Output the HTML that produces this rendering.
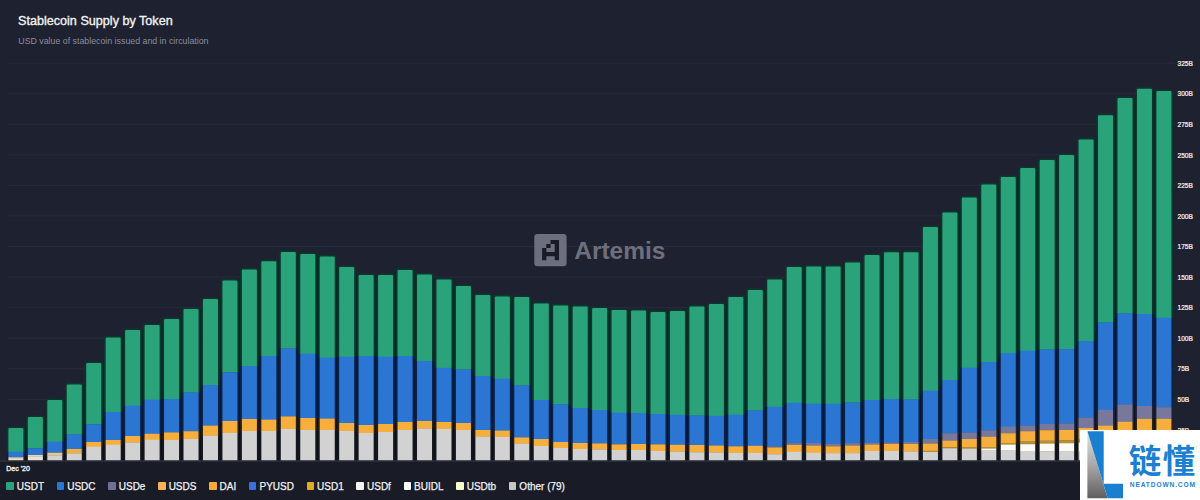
<!DOCTYPE html>
<html><head><meta charset="utf-8"><title>Stablecoin Supply by Token</title>
<style>
html,body{margin:0;padding:0}
body{width:1200px;height:500px;overflow:hidden;background:#1e2130;font-family:"Liberation Sans",sans-serif;position:relative}
#t{position:absolute;left:18px;top:12.5px;font-size:12.62px;line-height:16px;color:#f2f2f2;-webkit-text-stroke:0.35px #f2f2f2;white-space:nowrap}
#s{position:absolute;left:18.3px;top:35px;font-size:8.8px;line-height:12px;color:#8a8d9a;white-space:nowrap}
#foot{position:absolute;left:0;top:461px;width:1200px;height:39px;background:#191b27}
#d{position:absolute;left:6.3px;top:463.8px;font-size:7px;line-height:9px;color:#f0f0f0;-webkit-text-stroke:0.35px #f0f0f0;white-space:nowrap}
#lg{position:absolute;left:6.3px;top:481.3px;height:12px;white-space:nowrap;font-size:10px;line-height:12px;color:#f2f2f2;-webkit-text-stroke:0.25px #f2f2f2;display:flex}
.it{display:flex;align-items:center;margin-right:12.7px}
.it i{display:block;width:7.5px;height:7.5px;border-radius:1px;margin-right:3px;position:relative;top:-1.4px}
svg{position:absolute;left:0;top:0}
#wm{position:absolute;left:1080px;top:430px;width:120px;height:70px;background:#fff}
</style></head><body>
<div id="foot"></div>
<svg width="1200" height="500" viewBox="0 0 1200 500">
<g fill="#282b39"><rect x="8" y="429.34" width="1167" height="1"/><rect x="8" y="398.78" width="1167" height="1"/><rect x="8" y="368.23" width="1167" height="1"/><rect x="8" y="337.67" width="1167" height="1"/><rect x="8" y="307.11" width="1167" height="1"/><rect x="8" y="276.55" width="1167" height="1"/><rect x="8" y="246" width="1167" height="1"/><rect x="8" y="215.44" width="1167" height="1"/><rect x="8" y="184.88" width="1167" height="1"/><rect x="8" y="154.32" width="1167" height="1"/><rect x="8" y="123.77" width="1167" height="1"/><rect x="8" y="93.21" width="1167" height="1"/><rect x="8" y="62.65" width="1167" height="1"/></g>
<g fill="#0a1018"><rect fill="#062a21" x="24.8" y="428" width="1.66" height="22"/><rect fill="#07183a" x="24.8" y="450" width="1.66" height="6.15"/><rect fill="#0d1017" x="24.8" y="456.15" width="1.66" height="5.25"/><rect fill="#062a21" x="44.26" y="417" width="1.66" height="28"/><rect fill="#07183a" x="44.26" y="445" width="1.66" height="8.9"/><rect fill="#0d1017" x="44.26" y="453.9" width="1.66" height="7.5"/><rect fill="#062a21" x="63.72" y="400" width="1.66" height="38.05"/><rect fill="#07183a" x="63.72" y="438.05" width="1.66" height="12.85"/><rect fill="#0d1017" x="63.72" y="450.9" width="1.66" height="10.5"/><rect fill="#062a21" x="83.17" y="384.4" width="1.66" height="44.9"/><rect fill="#07183a" x="83.17" y="429.3" width="1.66" height="16.2"/><rect fill="#0d1017" x="83.17" y="445.5" width="1.66" height="15.9"/><rect fill="#062a21" x="102.63" y="363" width="1.66" height="55.1"/><rect fill="#07183a" x="102.63" y="418.1" width="1.66" height="22.9"/><rect fill="#0d1017" x="102.63" y="441" width="1.66" height="20.4"/><rect fill="#062a21" x="122.09" y="337.4" width="1.66" height="71.4"/><rect fill="#07183a" x="122.09" y="408.8" width="1.66" height="29.2"/><rect fill="#0d1017" x="122.09" y="438" width="1.66" height="23.4"/><rect fill="#062a21" x="141.55" y="330" width="1.66" height="72.6"/><rect fill="#07183a" x="141.55" y="402.6" width="1.66" height="32.3"/><rect fill="#0d1017" x="141.55" y="434.9" width="1.66" height="26.5"/><rect fill="#062a21" x="161.01" y="325" width="1.66" height="74.3"/><rect fill="#07183a" x="161.01" y="399.3" width="1.66" height="33.8"/><rect fill="#0d1017" x="161.01" y="433.1" width="1.66" height="28.3"/><rect fill="#062a21" x="180.46" y="319" width="1.66" height="76.7"/><rect fill="#07183a" x="180.46" y="395.7" width="1.66" height="36.1"/><rect fill="#0d1017" x="180.46" y="431.8" width="1.66" height="29.6"/><rect fill="#062a21" x="199.92" y="309" width="1.66" height="79.7"/><rect fill="#07183a" x="199.92" y="388.7" width="1.66" height="39.7"/><rect fill="#0d1017" x="199.92" y="428.4" width="1.66" height="33"/><rect fill="#062a21" x="219.38" y="299" width="1.66" height="79.6"/><rect fill="#07183a" x="219.38" y="378.6" width="1.66" height="44.7"/><rect fill="#0d1017" x="219.38" y="423.3" width="1.66" height="38.1"/><rect fill="#062a21" x="238.84" y="280.6" width="1.66" height="88.5"/><rect fill="#07183a" x="238.84" y="369.1" width="1.66" height="50.9"/><rect fill="#0d1017" x="238.84" y="420" width="1.66" height="41.4"/><rect fill="#062a21" x="258.3" y="269.4" width="1.66" height="91.6"/><rect fill="#07183a" x="258.3" y="361" width="1.66" height="58.3"/><rect fill="#0d1017" x="258.3" y="419.3" width="1.66" height="42.1"/><rect fill="#062a21" x="277.75" y="261.2" width="1.66" height="91"/><rect fill="#07183a" x="277.75" y="352.2" width="1.66" height="65.8"/><rect fill="#0d1017" x="277.75" y="418" width="1.66" height="43.4"/><rect fill="#062a21" x="297.21" y="254" width="1.66" height="97"/><rect fill="#07183a" x="297.21" y="351" width="1.66" height="66.2"/><rect fill="#0d1017" x="297.21" y="417.2" width="1.66" height="44.2"/><rect fill="#062a21" x="316.67" y="256.4" width="1.66" height="99.2"/><rect fill="#07183a" x="316.67" y="355.6" width="1.66" height="62.7"/><rect fill="#0d1017" x="316.67" y="418.3" width="1.66" height="43.1"/><rect fill="#062a21" x="336.13" y="267" width="1.66" height="90.1"/><rect fill="#07183a" x="336.13" y="357.1" width="1.66" height="63.7"/><rect fill="#0d1017" x="336.13" y="420.8" width="1.66" height="40.6"/><rect fill="#062a21" x="355.59" y="275" width="1.66" height="81.3"/><rect fill="#07183a" x="355.59" y="356.3" width="1.66" height="67.7"/><rect fill="#0d1017" x="355.59" y="424" width="1.66" height="37.4"/><rect fill="#062a21" x="375.04" y="275" width="1.66" height="81.3"/><rect fill="#07183a" x="375.04" y="356.3" width="1.66" height="68.2"/><rect fill="#0d1017" x="375.04" y="424.5" width="1.66" height="36.9"/><rect fill="#062a21" x="394.5" y="275" width="1.66" height="81.3"/><rect fill="#07183a" x="394.5" y="356.3" width="1.66" height="66.7"/><rect fill="#0d1017" x="394.5" y="423" width="1.66" height="38.4"/><rect fill="#062a21" x="413.96" y="274.4" width="1.66" height="84.1"/><rect fill="#07183a" x="413.96" y="358.5" width="1.66" height="63"/><rect fill="#0d1017" x="413.96" y="421.5" width="1.66" height="39.9"/><rect fill="#062a21" x="433.42" y="279.4" width="1.66" height="85"/><rect fill="#07183a" x="433.42" y="364.4" width="1.66" height="57.1"/><rect fill="#0d1017" x="433.42" y="421.5" width="1.66" height="39.9"/><rect fill="#062a21" x="452.88" y="286" width="1.66" height="82.6"/><rect fill="#07183a" x="452.88" y="368.6" width="1.66" height="53.9"/><rect fill="#0d1017" x="452.88" y="422.5" width="1.66" height="38.9"/><rect fill="#062a21" x="472.33" y="295" width="1.66" height="77.7"/><rect fill="#07183a" x="472.33" y="372.7" width="1.66" height="53.8"/><rect fill="#0d1017" x="472.33" y="426.5" width="1.66" height="34.9"/><rect fill="#062a21" x="491.79" y="296.4" width="1.66" height="80.9"/><rect fill="#07183a" x="491.79" y="377.3" width="1.66" height="53"/><rect fill="#0d1017" x="491.79" y="430.3" width="1.66" height="31.1"/><rect fill="#062a21" x="511.25" y="297" width="1.66" height="85"/><rect fill="#07183a" x="511.25" y="382" width="1.66" height="52"/><rect fill="#0d1017" x="511.25" y="434" width="1.66" height="27.4"/><rect fill="#062a21" x="530.71" y="303.4" width="1.66" height="89.3"/><rect fill="#07183a" x="530.71" y="392.7" width="1.66" height="45.5"/><rect fill="#0d1017" x="530.71" y="438.2" width="1.66" height="23.2"/><rect fill="#062a21" x="550.17" y="305.4" width="1.66" height="96.8"/><rect fill="#07183a" x="550.17" y="402.2" width="1.66" height="38.3"/><rect fill="#0d1017" x="550.17" y="440.5" width="1.66" height="20.9"/><rect fill="#062a21" x="569.62" y="306.4" width="1.66" height="99.8"/><rect fill="#07183a" x="569.62" y="406.2" width="1.66" height="36.3"/><rect fill="#0d1017" x="569.62" y="442.5" width="1.66" height="18.9"/><rect fill="#062a21" x="589.08" y="308" width="1.66" height="101"/><rect fill="#07183a" x="589.08" y="409" width="1.66" height="34.2"/><rect fill="#0d1017" x="589.08" y="443.2" width="1.66" height="18.2"/><rect fill="#062a21" x="608.54" y="310" width="1.66" height="101.3"/><rect fill="#07183a" x="608.54" y="411.3" width="1.66" height="32.6"/><rect fill="#0d1017" x="608.54" y="443.9" width="1.66" height="17.5"/><rect fill="#062a21" x="628" y="310.6" width="1.66" height="102.2"/><rect fill="#07183a" x="628" y="412.8" width="1.66" height="31.4"/><rect fill="#0d1017" x="628" y="444.2" width="1.66" height="17.2"/><rect fill="#062a21" x="647.46" y="312" width="1.66" height="101.5"/><rect fill="#07183a" x="647.46" y="413.5" width="1.66" height="30.7"/><rect fill="#0d1017" x="647.46" y="444.2" width="1.66" height="17.2"/><rect fill="#062a21" x="666.91" y="312" width="1.66" height="102.4"/><rect fill="#07183a" x="666.91" y="414.4" width="1.66" height="30.2"/><rect fill="#0d1017" x="666.91" y="444.6" width="1.66" height="16.8"/><rect fill="#062a21" x="686.37" y="311" width="1.66" height="104.15"/><rect fill="#07183a" x="686.37" y="415.15" width="1.66" height="29.75"/><rect fill="#0d1017" x="686.37" y="444.9" width="1.66" height="16.5"/><rect fill="#062a21" x="705.83" y="306.4" width="1.66" height="109.25"/><rect fill="#07183a" x="705.83" y="415.65" width="1.66" height="29.6"/><rect fill="#0d1017" x="705.83" y="445.25" width="1.66" height="16.15"/><rect fill="#062a21" x="725.29" y="304" width="1.66" height="111.25"/><rect fill="#07183a" x="725.29" y="415.25" width="1.66" height="30.65"/><rect fill="#0d1017" x="725.29" y="445.9" width="1.66" height="15.5"/><rect fill="#062a21" x="744.75" y="297" width="1.66" height="115.6"/><rect fill="#07183a" x="744.75" y="412.6" width="1.66" height="33.45"/><rect fill="#0d1017" x="744.75" y="446.05" width="1.66" height="15.35"/><rect fill="#062a21" x="764.2" y="290" width="1.66" height="118.6"/><rect fill="#07183a" x="764.2" y="408.6" width="1.66" height="37.45"/><rect fill="#0d1017" x="764.2" y="446.05" width="1.66" height="15.35"/><rect fill="#062a21" x="783.66" y="279.4" width="1.66" height="125.35"/><rect fill="#07183a" x="783.66" y="404.75" width="1.66" height="39.95"/><rect fill="#0d1017" x="783.66" y="444.7" width="1.66" height="16.7"/><rect fill="#062a21" x="803.12" y="267" width="1.66" height="136.25"/><rect fill="#07183a" x="803.12" y="403.25" width="1.66" height="39.8"/><rect fill="#0d1017" x="803.12" y="443.05" width="1.66" height="18.35"/><rect fill="#062a21" x="822.58" y="266.4" width="1.66" height="137.35"/><rect fill="#07183a" x="822.58" y="403.75" width="1.66" height="39.5"/><rect fill="#0d1017" x="822.58" y="443.25" width="1.66" height="18.15"/><rect fill="#062a21" x="842.04" y="266.4" width="1.66" height="136.75"/><rect fill="#07183a" x="842.04" y="403.15" width="1.66" height="40.15"/><rect fill="#0d1017" x="842.04" y="443.3" width="1.66" height="18.1"/><rect fill="#062a21" x="861.49" y="262.6" width="1.66" height="138.65"/><rect fill="#07183a" x="861.49" y="401.25" width="1.66" height="41.7"/><rect fill="#0d1017" x="861.49" y="442.95" width="1.66" height="18.45"/><rect fill="#062a21" x="880.95" y="255" width="1.66" height="144.5"/><rect fill="#07183a" x="880.95" y="399.5" width="1.66" height="43.05"/><rect fill="#0d1017" x="880.95" y="442.55" width="1.66" height="18.85"/><rect fill="#062a21" x="900.41" y="252.2" width="1.66" height="147"/><rect fill="#07183a" x="900.41" y="399.2" width="1.66" height="42.9"/><rect fill="#0d1017" x="900.41" y="442.1" width="1.66" height="19.3"/><rect fill="#062a21" x="919.87" y="252.2" width="1.66" height="142.8"/><rect fill="#07183a" x="919.87" y="395" width="1.66" height="45.45"/><rect fill="#0d1017" x="919.87" y="440.45" width="1.66" height="20.95"/><rect fill="#062a21" x="939.33" y="227" width="1.66" height="158.3"/><rect fill="#07183a" x="939.33" y="385.3" width="1.66" height="50.8"/><rect fill="#0d1017" x="939.33" y="436.1" width="1.66" height="25.3"/><rect fill="#062a21" x="958.78" y="212.6" width="1.66" height="161.2"/><rect fill="#07183a" x="958.78" y="373.8" width="1.66" height="59.05"/><rect fill="#0d1017" x="958.78" y="432.85" width="1.66" height="28.55"/><rect fill="#062a21" x="978.24" y="197.6" width="1.66" height="167.2"/><rect fill="#07183a" x="978.24" y="364.8" width="1.66" height="66.55"/><rect fill="#0d1017" x="978.24" y="431.35" width="1.66" height="30.05"/><rect fill="#062a21" x="997.7" y="184.4" width="1.66" height="173.1"/><rect fill="#07183a" x="997.7" y="357.5" width="1.66" height="70.95"/><rect fill="#0d1017" x="997.7" y="428.45" width="1.66" height="32.95"/><rect fill="#062a21" x="1017.16" y="177" width="1.66" height="174.8"/><rect fill="#07183a" x="1017.16" y="351.8" width="1.66" height="74.25"/><rect fill="#0d1017" x="1017.16" y="426.05" width="1.66" height="35.35"/><rect fill="#062a21" x="1036.62" y="168" width="1.66" height="182.05"/><rect fill="#07183a" x="1036.62" y="350.05" width="1.66" height="74.65"/><rect fill="#0d1017" x="1036.62" y="424.7" width="1.66" height="36.7"/><rect fill="#062a21" x="1056.07" y="160" width="1.66" height="189.3"/><rect fill="#07183a" x="1056.07" y="349.3" width="1.66" height="74.4"/><rect fill="#0d1017" x="1056.07" y="423.7" width="1.66" height="37.7"/><rect fill="#062a21" x="1075.53" y="155" width="1.66" height="190.05"/><rect fill="#07183a" x="1075.53" y="345.05" width="1.66" height="75.45"/><rect fill="#0d1017" x="1075.53" y="420.5" width="1.66" height="40.9"/><rect fill="#062a21" x="1094.99" y="139.4" width="1.66" height="192.35"/><rect fill="#07183a" x="1094.99" y="331.75" width="1.66" height="81.95"/><rect fill="#0d1017" x="1094.99" y="413.7" width="1.66" height="47.7"/><rect fill="#062a21" x="1114.45" y="115.2" width="1.66" height="202.75"/><rect fill="#07183a" x="1114.45" y="317.95" width="1.66" height="89.25"/><rect fill="#0d1017" x="1114.45" y="407.2" width="1.66" height="54.2"/><rect fill="#062a21" x="1133.91" y="98" width="1.66" height="215.7"/><rect fill="#07183a" x="1133.91" y="313.7" width="1.66" height="91.55"/><rect fill="#0d1017" x="1133.91" y="405.25" width="1.66" height="56.15"/><rect fill="#062a21" x="1153.36" y="91" width="1.66" height="224.85"/><rect fill="#07183a" x="1153.36" y="315.85" width="1.66" height="90.7"/><rect fill="#0d1017" x="1153.36" y="406.55" width="1.66" height="54.85"/></g>
<g><path fill="#0a382c" d="M6.8 452V429.1Q6.8 426.4 9.5 426.4H22.3Q25 426.4 25 429.1V452Z"/><rect fill="#0a2148" x="6.8" y="451.7" width="18.2" height="5.9"/><rect fill="#2b2011" x="6.8" y="457.3" width="18.2" height="1.6"/><rect fill="#15171e" x="6.8" y="458.6" width="18.2" height="2.8"/><path fill="#0a382c" d="M26.26 448.6V418.1Q26.26 415.4 28.96 415.4H41.76Q44.46 415.4 44.46 418.1V448.6Z"/><rect fill="#0a2148" x="26.26" y="448.3" width="18.2" height="7"/><rect fill="#2b2011" x="26.26" y="455" width="18.2" height="1.6"/><rect fill="#15171e" x="26.26" y="456.3" width="18.2" height="5.1"/><path fill="#0a382c" d="M45.72 442V401.1Q45.72 398.4 48.42 398.4H61.22Q63.92 398.4 63.92 401.1V442Z"/><rect fill="#0a2148" x="45.72" y="441.7" width="18.2" height="11.4"/><rect fill="#2b2011" x="45.72" y="452.8" width="18.2" height="2.8"/><rect fill="#15171e" x="45.72" y="455.3" width="18.2" height="6.1"/><path fill="#0a382c" d="M65.17 434.7V385.5Q65.17 382.8 67.87 382.8H80.67Q83.37 382.8 83.37 385.5V434.7Z"/><rect fill="#0a2148" x="65.17" y="434.4" width="18.2" height="14.9"/><rect fill="#2b2011" x="65.17" y="449" width="18.2" height="4.6"/><rect fill="#15171e" x="65.17" y="453.3" width="18.2" height="8.1"/><path fill="#0a382c" d="M84.63 424.5V364.1Q84.63 361.4 87.33 361.4H100.13Q102.83 361.4 102.83 364.1V424.5Z"/><rect fill="#0a2148" x="84.63" y="424.2" width="18.2" height="18.1"/><rect fill="#2b2011" x="84.63" y="442" width="18.2" height="5"/><rect fill="#15171e" x="84.63" y="446.7" width="18.2" height="14.7"/><path fill="#0a382c" d="M104.09 412.3V338.5Q104.09 335.8 106.79 335.8H119.59Q122.29 335.8 122.29 338.5V412.3Z"/><rect fill="#0a2148" x="104.09" y="412" width="18.2" height="28.3"/><rect fill="#2b2011" x="104.09" y="440" width="18.2" height="5"/><rect fill="#15171e" x="104.09" y="444.7" width="18.2" height="16.7"/><path fill="#0a382c" d="M123.55 405.9V331.1Q123.55 328.4 126.25 328.4H139.05Q141.75 328.4 141.75 331.1V405.9Z"/><rect fill="#0a2148" x="123.55" y="405.6" width="18.2" height="30.7"/><rect fill="#2b2011" x="123.55" y="436" width="18.2" height="6.8"/><rect fill="#15171e" x="123.55" y="442.5" width="18.2" height="18.9"/><path fill="#0a382c" d="M143.01 399.9V326.1Q143.01 323.4 145.71 323.4H158.51Q161.21 323.4 161.21 326.1V399.9Z"/><rect fill="#0a2148" x="143.01" y="399.6" width="18.2" height="34.5"/><rect fill="#2b2011" x="143.01" y="433.8" width="18.2" height="6.2"/><rect fill="#15171e" x="143.01" y="439.7" width="18.2" height="21.7"/><path fill="#0a382c" d="M162.46 399.3V320.1Q162.46 317.4 165.16 317.4H177.96Q180.66 317.4 180.66 320.1V399.3Z"/><rect fill="#0a2148" x="162.46" y="399" width="18.2" height="33.7"/><rect fill="#2b2011" x="162.46" y="432.4" width="18.2" height="7.9"/><rect fill="#15171e" x="162.46" y="440" width="18.2" height="21.4"/><path fill="#0a382c" d="M181.92 392.7V310.1Q181.92 307.4 184.62 307.4H197.42Q200.12 307.4 200.12 310.1V392.7Z"/><rect fill="#0a2148" x="181.92" y="392.4" width="18.2" height="39.1"/><rect fill="#2b2011" x="181.92" y="431.2" width="18.2" height="8.1"/><rect fill="#15171e" x="181.92" y="439" width="18.2" height="22.4"/><path fill="#0a382c" d="M201.38 385.3V300.1Q201.38 297.4 204.08 297.4H216.88Q219.58 297.4 219.58 300.1V385.3Z"/><rect fill="#0a2148" x="201.38" y="385" width="18.2" height="40.9"/><rect fill="#2b2011" x="201.38" y="425.6" width="18.2" height="10.3"/><rect fill="#15171e" x="201.38" y="435.6" width="18.2" height="25.8"/><path fill="#0a382c" d="M220.84 372.5V281.7Q220.84 279 223.54 279H236.34Q239.04 279 239.04 281.7V372.5Z"/><rect fill="#0a2148" x="220.84" y="372.2" width="18.2" height="49.1"/><rect fill="#2b2011" x="220.84" y="421" width="18.2" height="12.3"/><rect fill="#15171e" x="220.84" y="433" width="18.2" height="28.4"/><path fill="#0a382c" d="M240.3 366.3V270.5Q240.3 267.8 243 267.8H255.8Q258.5 267.8 258.5 270.5V366.3Z"/><rect fill="#0a2148" x="240.3" y="366" width="18.2" height="53.3"/><rect fill="#2b2011" x="240.3" y="419" width="18.2" height="12.3"/><rect fill="#15171e" x="240.3" y="431" width="18.2" height="30.4"/><path fill="#0a382c" d="M259.75 356.3V262.3Q259.75 259.6 262.45 259.6H275.25Q277.95 259.6 277.95 262.3V356.3Z"/><rect fill="#0a2148" x="259.75" y="356" width="18.2" height="63.9"/><rect fill="#2b2011" x="259.75" y="419.6" width="18.2" height="11.7"/><rect fill="#15171e" x="259.75" y="431" width="18.2" height="30.4"/><path fill="#0a382c" d="M279.21 348.7V253.1Q279.21 250.4 281.91 250.4H294.71Q297.41 250.4 297.41 253.1V348.7Z"/><rect fill="#0a2148" x="279.21" y="348.4" width="18.2" height="68.3"/><rect fill="#2b2011" x="279.21" y="416.4" width="18.2" height="12.9"/><rect fill="#15171e" x="279.21" y="429" width="18.2" height="32.4"/><path fill="#0a382c" d="M298.67 353.9V255.1Q298.67 252.4 301.37 252.4H314.17Q316.87 252.4 316.87 255.1V353.9Z"/><rect fill="#0a2148" x="298.67" y="353.6" width="18.2" height="64.7"/><rect fill="#2b2011" x="298.67" y="418" width="18.2" height="12.3"/><rect fill="#15171e" x="298.67" y="430" width="18.2" height="31.4"/><path fill="#0a382c" d="M318.13 357.9V257.5Q318.13 254.8 320.83 254.8H333.63Q336.33 254.8 336.33 257.5V357.9Z"/><rect fill="#0a2148" x="318.13" y="357.6" width="18.2" height="61.3"/><rect fill="#2b2011" x="318.13" y="418.6" width="18.2" height="11.7"/><rect fill="#15171e" x="318.13" y="430" width="18.2" height="31.4"/><path fill="#0a382c" d="M337.59 356.9V268.1Q337.59 265.4 340.29 265.4H353.09Q355.79 265.4 355.79 268.1V356.9Z"/><rect fill="#0a2148" x="337.59" y="356.6" width="18.2" height="66.7"/><rect fill="#2b2011" x="337.59" y="423" width="18.2" height="8.3"/><rect fill="#15171e" x="337.59" y="431" width="18.2" height="30.4"/><path fill="#0a382c" d="M357.04 356.3V276.1Q357.04 273.4 359.74 273.4H372.54Q375.24 273.4 375.24 276.1V356.3Z"/><rect fill="#0a2148" x="357.04" y="356" width="18.2" height="69.3"/><rect fill="#2b2011" x="357.04" y="425" width="18.2" height="8.3"/><rect fill="#15171e" x="357.04" y="433" width="18.2" height="28.4"/><path fill="#0a382c" d="M376.5 356.9V276.1Q376.5 273.4 379.2 273.4H392Q394.7 273.4 394.7 276.1V356.9Z"/><rect fill="#0a2148" x="376.5" y="356.6" width="18.2" height="67.7"/><rect fill="#2b2011" x="376.5" y="424" width="18.2" height="8.3"/><rect fill="#15171e" x="376.5" y="432" width="18.2" height="29.4"/><path fill="#0a382c" d="M395.96 356.3V271.1Q395.96 268.4 398.66 268.4H411.46Q414.16 268.4 414.16 271.1V356.3Z"/><rect fill="#0a2148" x="395.96" y="356" width="18.2" height="66.3"/><rect fill="#2b2011" x="395.96" y="422" width="18.2" height="8.3"/><rect fill="#15171e" x="395.96" y="430" width="18.2" height="31.4"/><path fill="#0a382c" d="M415.42 361.3V275.5Q415.42 272.8 418.12 272.8H430.92Q433.62 272.8 433.62 275.5V361.3Z"/><rect fill="#0a2148" x="415.42" y="361" width="18.2" height="60.3"/><rect fill="#2b2011" x="415.42" y="421" width="18.2" height="7.9"/><rect fill="#15171e" x="415.42" y="428.6" width="18.2" height="32.8"/><path fill="#0a382c" d="M434.88 368.1V280.5Q434.88 277.8 437.58 277.8H450.38Q453.08 277.8 453.08 280.5V368.1Z"/><rect fill="#0a2148" x="434.88" y="367.8" width="18.2" height="54.5"/><rect fill="#2b2011" x="434.88" y="422" width="18.2" height="7.3"/><rect fill="#15171e" x="434.88" y="429" width="18.2" height="32.4"/><path fill="#0a382c" d="M454.33 369.7V287.1Q454.33 284.4 457.03 284.4H469.83Q472.53 284.4 472.53 287.1V369.7Z"/><rect fill="#0a2148" x="454.33" y="369.4" width="18.2" height="53.9"/><rect fill="#2b2011" x="454.33" y="423" width="18.2" height="7.3"/><rect fill="#15171e" x="454.33" y="430" width="18.2" height="31.4"/><path fill="#0a382c" d="M473.79 376.3V296.1Q473.79 293.4 476.49 293.4H489.29Q491.99 293.4 491.99 296.1V376.3Z"/><rect fill="#0a2148" x="473.79" y="376" width="18.2" height="54.3"/><rect fill="#2b2011" x="473.79" y="430" width="18.2" height="6.9"/><rect fill="#15171e" x="473.79" y="436.6" width="18.2" height="24.8"/><path fill="#0a382c" d="M493.25 378.9V297.5Q493.25 294.8 495.95 294.8H508.75Q511.45 294.8 511.45 297.5V378.9Z"/><rect fill="#0a2148" x="493.25" y="378.6" width="18.2" height="52.3"/><rect fill="#2b2011" x="493.25" y="430.6" width="18.2" height="6.7"/><rect fill="#15171e" x="493.25" y="437" width="18.2" height="24.4"/><path fill="#0a382c" d="M512.71 385.7V298.1Q512.71 295.4 515.41 295.4H528.21Q530.91 295.4 530.91 298.1V385.7Z"/><rect fill="#0a2148" x="512.71" y="385.4" width="18.2" height="52.3"/><rect fill="#2b2011" x="512.71" y="437.4" width="18.2" height="6.5"/><rect fill="#15171e" x="512.71" y="443.6" width="18.2" height="17.8"/><path fill="#0a382c" d="M532.17 400.3V304.5Q532.17 301.8 534.87 301.8H547.67Q550.37 301.8 550.37 304.5V400.3Z"/><rect fill="#0a2148" x="532.17" y="400" width="18.2" height="39.3"/><rect fill="#2b2011" x="532.17" y="439" width="18.2" height="7.3"/><rect fill="#15171e" x="532.17" y="446" width="18.2" height="15.4"/><path fill="#0a382c" d="M551.62 404.7V306.5Q551.62 303.8 554.32 303.8H567.12Q569.82 303.8 569.82 306.5V404.7Z"/><rect fill="#0a2148" x="551.62" y="404.4" width="18.2" height="37.9"/><rect fill="#2b2011" x="551.62" y="442" width="18.2" height="6.3"/><rect fill="#15171e" x="551.62" y="448" width="18.2" height="13.4"/><path fill="#0a382c" d="M571.08 408.3V307.5Q571.08 304.8 573.78 304.8H586.58Q589.28 304.8 589.28 307.5V408.3Z"/><rect fill="#0a2148" x="571.08" y="408" width="18.2" height="35.3"/><rect fill="#2b2011" x="571.08" y="443" width="18.2" height="6.3"/><rect fill="#15171e" x="571.08" y="449" width="18.2" height="12.4"/><path fill="#0a382c" d="M590.54 410.3V309.1Q590.54 306.4 593.24 306.4H606.04Q608.74 306.4 608.74 309.1V410.3Z"/><rect fill="#0a2148" x="590.54" y="410" width="18.2" height="33.7"/><rect fill="#2b2011" x="590.54" y="443.4" width="18.2" height="6.3"/><rect fill="#15171e" x="590.54" y="449.4" width="18.2" height="12"/><path fill="#0a382c" d="M610 412.9V311.1Q610 308.4 612.7 308.4H625.5Q628.2 308.4 628.2 311.1V412.9Z"/><rect fill="#0a2148" x="610" y="412.6" width="18.2" height="32.1"/><rect fill="#2b2011" x="610" y="444.4" width="18.2" height="5.9"/><rect fill="#15171e" x="610" y="450" width="18.2" height="11.4"/><path fill="#0a382c" d="M629.46 413.3V311.7Q629.46 309 632.16 309H644.96Q647.66 309 647.66 311.7V413.3Z"/><rect fill="#0a2148" x="629.46" y="413" width="18.2" height="31.3"/><rect fill="#2b2011" x="629.46" y="444" width="18.2" height="6.3"/><rect fill="#15171e" x="629.46" y="450" width="18.2" height="11.4"/><path fill="#0a382c" d="M648.91 414.3V313.1Q648.91 310.4 651.61 310.4H664.41Q667.11 310.4 667.11 313.1V414.3Z"/><rect fill="#0a2148" x="648.91" y="414" width="18.2" height="30.7"/><rect fill="#2b2011" x="648.91" y="444.4" width="18.2" height="6.9"/><rect fill="#15171e" x="648.91" y="451" width="18.2" height="10.4"/><path fill="#0a382c" d="M668.37 415.1V312.1Q668.37 309.4 671.07 309.4H683.87Q686.57 309.4 686.57 312.1V415.1Z"/><rect fill="#0a2148" x="668.37" y="414.8" width="18.2" height="30.3"/><rect fill="#2b2011" x="668.37" y="444.8" width="18.2" height="7"/><rect fill="#15171e" x="668.37" y="451.5" width="18.2" height="9.9"/><path fill="#0a382c" d="M687.83 415.8V307.5Q687.83 304.8 690.53 304.8H703.33Q706.03 304.8 706.03 307.5V415.8Z"/><rect fill="#0a2148" x="687.83" y="415.5" width="18.2" height="29.8"/><rect fill="#2b2011" x="687.83" y="445" width="18.2" height="7.5"/><rect fill="#15171e" x="687.83" y="452.2" width="18.2" height="9.2"/><path fill="#0a382c" d="M707.29 416.1V305.1Q707.29 302.4 709.99 302.4H722.79Q725.49 302.4 725.49 305.1V416.1Z"/><rect fill="#0a2148" x="707.29" y="415.8" width="18.2" height="30"/><rect fill="#2b2011" x="707.29" y="445.5" width="18.2" height="7.3"/><rect fill="#15171e" x="707.29" y="452.5" width="18.2" height="8.9"/><path fill="#0a382c" d="M726.75 415V298.1Q726.75 295.4 729.45 295.4H742.25Q744.95 295.4 744.95 298.1V415Z"/><rect fill="#0a2148" x="726.75" y="414.7" width="18.2" height="31.9"/><rect fill="#2b2011" x="726.75" y="446.3" width="18.2" height="7"/><rect fill="#15171e" x="726.75" y="453" width="18.2" height="8.4"/><path fill="#0a382c" d="M746.2 410.8V291.1Q746.2 288.4 748.9 288.4H761.7Q764.4 288.4 764.4 291.1V410.8Z"/><rect fill="#0a2148" x="746.2" y="410.5" width="18.2" height="35.6"/><rect fill="#2b2011" x="746.2" y="445.8" width="18.2" height="7.5"/><rect fill="#15171e" x="746.2" y="453" width="18.2" height="8.4"/><path fill="#0a382c" d="M765.66 407V280.5Q765.66 277.8 768.36 277.8H781.16Q783.86 277.8 783.86 280.5V407Z"/><rect fill="#0a2148" x="765.66" y="406.7" width="18.2" height="39.9"/><rect fill="#20213a" x="765.66" y="446.3" width="18.2" height="1.5"/><rect fill="#2b2011" x="765.66" y="447.5" width="18.2" height="7"/><rect fill="#15171e" x="765.66" y="454.2" width="18.2" height="7.2"/><path fill="#0a382c" d="M785.12 403.1V268.1Q785.12 265.4 787.82 265.4H800.62Q803.32 265.4 803.32 268.1V403.1Z"/><rect fill="#0a2148" x="785.12" y="402.8" width="18.2" height="40.6"/><rect fill="#20213a" x="785.12" y="443.1" width="18.2" height="2.2"/><rect fill="#2b2011" x="785.12" y="445" width="18.2" height="7.2"/><rect fill="#15171e" x="785.12" y="451.9" width="18.2" height="9.5"/><path fill="#0a382c" d="M804.58 404V267.5Q804.58 264.8 807.28 264.8H820.08Q822.78 264.8 822.78 267.5V404Z"/><rect fill="#0a2148" x="804.58" y="403.7" width="18.2" height="39.6"/><rect fill="#20213a" x="804.58" y="443" width="18.2" height="2.9"/><rect fill="#2b2011" x="804.58" y="445.6" width="18.2" height="7.5"/><rect fill="#15171e" x="804.58" y="452.8" width="18.2" height="8.6"/><path fill="#0a382c" d="M824.04 404.1V267.5Q824.04 264.8 826.74 264.8H839.54Q842.24 264.8 842.24 267.5V404.1Z"/><rect fill="#0a2148" x="824.04" y="403.8" width="18.2" height="40"/><rect fill="#20213a" x="824.04" y="443.5" width="18.2" height="3.1"/><rect fill="#2b2011" x="824.04" y="446.3" width="18.2" height="7.1"/><rect fill="#15171e" x="824.04" y="453.1" width="18.2" height="8.3"/><path fill="#0a382c" d="M843.49 402.8V263.7Q843.49 261 846.19 261H858.99Q861.69 261 861.69 263.7V402.8Z"/><rect fill="#0a2148" x="843.49" y="402.5" width="18.2" height="40.9"/><rect fill="#20213a" x="843.49" y="443.1" width="18.2" height="2.8"/><rect fill="#2b2011" x="843.49" y="445.6" width="18.2" height="7.8"/><rect fill="#15171e" x="843.49" y="453.1" width="18.2" height="8.3"/><path fill="#0a382c" d="M862.95 400.3V256.1Q862.95 253.4 865.65 253.4H878.45Q881.15 253.4 881.15 256.1V400.3Z"/><rect fill="#0a2148" x="862.95" y="400" width="18.2" height="43.1"/><rect fill="#20213a" x="862.95" y="442.8" width="18.2" height="2.1"/><rect fill="#2b2011" x="862.95" y="444.6" width="18.2" height="6.7"/><rect fill="#15171e" x="862.95" y="451" width="18.2" height="10.4"/><path fill="#0a382c" d="M882.41 399.3V253.3Q882.41 250.6 885.11 250.6H897.91Q900.61 250.6 900.61 253.3V399.3Z"/><rect fill="#0a2148" x="882.41" y="399" width="18.2" height="43.6"/><rect fill="#20213a" x="882.41" y="442.3" width="18.2" height="2"/><rect fill="#2b2011" x="882.41" y="444" width="18.2" height="7.3"/><rect fill="#15171e" x="882.41" y="451" width="18.2" height="10.4"/><path fill="#0a382c" d="M901.87 399.7V253.3Q901.87 250.6 904.57 250.6H917.37Q920.07 250.6 920.07 253.3V399.7Z"/><rect fill="#0a2148" x="901.87" y="399.4" width="18.2" height="42.8"/><rect fill="#20213a" x="901.87" y="441.9" width="18.2" height="2.4"/><rect fill="#2b2011" x="901.87" y="444" width="18.2" height="7.6"/><rect fill="#15171e" x="901.87" y="451.3" width="18.2" height="10.1"/><path fill="#0a382c" d="M921.33 390.9V228.1Q921.33 225.4 924.03 225.4H936.83Q939.53 225.4 939.53 228.1V390.9Z"/><rect fill="#0a2148" x="921.33" y="390.6" width="18.2" height="48.7"/><rect fill="#20213a" x="921.33" y="439" width="18.2" height="4.9"/><rect fill="#2b2011" x="921.33" y="443.6" width="18.2" height="7.4"/><rect fill="#2a2210" x="921.33" y="450.7" width="18.2" height="1.6"/><rect fill="#15171e" x="921.33" y="452" width="18.2" height="9.4"/><path fill="#0a382c" d="M940.78 380.3V213.7Q940.78 211 943.48 211H956.28Q958.98 211 958.98 213.7V380.3Z"/><rect fill="#0a2148" x="940.78" y="380" width="18.2" height="53.5"/><rect fill="#20213a" x="940.78" y="433.2" width="18.2" height="7.7"/><rect fill="#2b2011" x="940.78" y="440.6" width="18.2" height="6.9"/><rect fill="#2a2210" x="940.78" y="447.2" width="18.2" height="1.3"/><rect fill="#15171e" x="940.78" y="448.2" width="18.2" height="13.2"/><path fill="#0a382c" d="M960.24 367.9V198.7Q960.24 196 962.94 196H975.74Q978.44 196 978.44 198.7V367.9Z"/><rect fill="#0a2148" x="960.24" y="367.6" width="18.2" height="65.2"/><rect fill="#20213a" x="960.24" y="432.5" width="18.2" height="6.8"/><rect fill="#2b2011" x="960.24" y="439" width="18.2" height="8.7"/><rect fill="#2a2210" x="960.24" y="447.4" width="18.2" height="1.5"/><rect fill="#15171e" x="960.24" y="448.6" width="18.2" height="12.8"/><path fill="#0a382c" d="M979.7 362.3V185.5Q979.7 182.8 982.4 182.8H995.2Q997.9 182.8 997.9 185.5V362.3Z"/><rect fill="#0a2148" x="979.7" y="362" width="18.2" height="68.5"/><rect fill="#20213a" x="979.7" y="430.2" width="18.2" height="6.9"/><rect fill="#2b2011" x="979.7" y="436.8" width="18.2" height="10.5"/><rect fill="#2a2210" x="979.7" y="447" width="18.2" height="1.8"/><rect fill="#15171e" x="979.7" y="448.5" width="18.2" height="1.8"/><rect fill="#15171e" x="979.7" y="450" width="18.2" height="11.4"/><path fill="#0a382c" d="M999.16 353.3V178.1Q999.16 175.4 1001.86 175.4H1014.66Q1017.36 175.4 1017.36 178.1V353.3Z"/><rect fill="#0a2148" x="999.16" y="353" width="18.2" height="74"/><rect fill="#20213a" x="999.16" y="426.7" width="18.2" height="6.8"/><rect fill="#2b2011" x="999.16" y="433.2" width="18.2" height="10.1"/><rect fill="#2a2210" x="999.16" y="443" width="18.2" height="1.9"/><rect fill="#15171e" x="999.16" y="444.6" width="18.2" height="6.2"/><rect fill="#15171e" x="999.16" y="450.5" width="18.2" height="10.9"/><path fill="#0a382c" d="M1018.62 350.9V169.1Q1018.62 166.4 1021.32 166.4H1034.12Q1036.82 166.4 1036.82 169.1V350.9Z"/><rect fill="#0a2148" x="1018.62" y="350.6" width="18.2" height="75.1"/><rect fill="#20213a" x="1018.62" y="425.4" width="18.2" height="6.1"/><rect fill="#2b2011" x="1018.62" y="431.2" width="18.2" height="10.1"/><rect fill="#2a2210" x="1018.62" y="441" width="18.2" height="3.5"/><rect fill="#15171e" x="1018.62" y="444.2" width="18.2" height="7.1"/><rect fill="#15171e" x="1018.62" y="451" width="18.2" height="10.4"/><path fill="#0a382c" d="M1038.07 349.8V161.1Q1038.07 158.4 1040.77 158.4H1053.57Q1056.27 158.4 1056.27 161.1V349.8Z"/><rect fill="#0a2148" x="1038.07" y="349.5" width="18.2" height="74.8"/><rect fill="#20213a" x="1038.07" y="424" width="18.2" height="6.5"/><rect fill="#2b2011" x="1038.07" y="430.2" width="18.2" height="10.7"/><rect fill="#2a2210" x="1038.07" y="440.6" width="18.2" height="3.3"/><rect fill="#15171e" x="1038.07" y="443.6" width="18.2" height="8"/><rect fill="#15171e" x="1038.07" y="451.3" width="18.2" height="10.1"/><path fill="#0a382c" d="M1057.53 349.4V156.1Q1057.53 153.4 1060.23 153.4H1073.03Q1075.73 153.4 1075.73 156.1V349.4Z"/><rect fill="#0a2148" x="1057.53" y="349.1" width="18.2" height="74.6"/><rect fill="#20213a" x="1057.53" y="423.4" width="18.2" height="6.9"/><rect fill="#2b2011" x="1057.53" y="430" width="18.2" height="10.6"/><rect fill="#2a2210" x="1057.53" y="440.3" width="18.2" height="3.2"/><rect fill="#15171e" x="1057.53" y="443.2" width="18.2" height="8.6"/><rect fill="#15171e" x="1057.53" y="451.5" width="18.2" height="9.9"/><path fill="#0a382c" d="M1076.99 341.3V140.5Q1076.99 137.8 1079.69 137.8H1092.49Q1095.19 137.8 1095.19 140.5V341.3Z"/><rect fill="#0a2148" x="1076.99" y="341" width="18.2" height="76.9"/><rect fill="#20213a" x="1076.99" y="417.6" width="18.2" height="10.7"/><rect fill="#2b2011" x="1076.99" y="428" width="18.2" height="11.8"/><rect fill="#2a2210" x="1076.99" y="439.5" width="18.2" height="3.4"/><rect fill="#15171e" x="1076.99" y="442.6" width="18.2" height="9.2"/><rect fill="#15171e" x="1076.99" y="451.5" width="18.2" height="9.9"/><path fill="#0a382c" d="M1096.45 322.8V116.3Q1096.45 113.6 1099.15 113.6H1111.95Q1114.65 113.6 1114.65 116.3V322.8Z"/><rect fill="#0a2148" x="1096.45" y="322.5" width="18.2" height="87.6"/><rect fill="#20213a" x="1096.45" y="409.8" width="18.2" height="16.2"/><rect fill="#2b2011" x="1096.45" y="425.7" width="18.2" height="13.1"/><rect fill="#2a2210" x="1096.45" y="438.5" width="18.2" height="3.8"/><rect fill="#15171e" x="1096.45" y="442" width="18.2" height="9.8"/><rect fill="#15171e" x="1096.45" y="451.5" width="18.2" height="9.9"/><path fill="#0a382c" d="M1115.91 313.7V99.1Q1115.91 96.4 1118.61 96.4H1131.41Q1134.11 96.4 1134.11 99.1V313.7Z"/><rect fill="#0a2148" x="1115.91" y="313.4" width="18.2" height="91.5"/><rect fill="#20213a" x="1115.91" y="404.6" width="18.2" height="17.5"/><rect fill="#2b2011" x="1115.91" y="421.8" width="18.2" height="15.5"/><rect fill="#2a2210" x="1115.91" y="437" width="18.2" height="4.3"/><rect fill="#15171e" x="1115.91" y="441" width="18.2" height="10.8"/><rect fill="#15171e" x="1115.91" y="451.5" width="18.2" height="9.9"/><path fill="#0a382c" d="M1135.36 314.3V89.9Q1135.36 87.2 1138.06 87.2H1150.86Q1153.56 87.2 1153.56 89.9V314.3Z"/><rect fill="#0a2148" x="1135.36" y="314" width="18.2" height="92.2"/><rect fill="#20213a" x="1135.36" y="405.9" width="18.2" height="13.3"/><rect fill="#2b2011" x="1135.36" y="418.9" width="18.2" height="17.4"/><rect fill="#2a2210" x="1135.36" y="436" width="18.2" height="4.8"/><rect fill="#15171e" x="1135.36" y="440.5" width="18.2" height="11.3"/><rect fill="#15171e" x="1135.36" y="451.5" width="18.2" height="9.9"/><path fill="#0a382c" d="M1154.82 318V92.1Q1154.82 89.4 1157.52 89.4H1170.32Q1173.02 89.4 1173.02 92.1V318Z"/><rect fill="#0a2148" x="1154.82" y="317.7" width="18.2" height="89.8"/><rect fill="#20213a" x="1154.82" y="407.2" width="18.2" height="12"/><rect fill="#2b2011" x="1154.82" y="418.9" width="18.2" height="17.4"/><rect fill="#2a2210" x="1154.82" y="436" width="18.2" height="4.8"/><rect fill="#15171e" x="1154.82" y="440.5" width="18.2" height="11.3"/><rect fill="#15171e" x="1154.82" y="451.5" width="18.2" height="9.9"/></g>
<g shape-rendering="auto"><path fill="#2aa37b" d="M8.4 452V429.1Q8.4 428 9.5 428H22.3Q23.4 428 23.4 429.1V452Z"/><rect fill="#2b76d2" x="8.4" y="451.7" width="15.0" height="5.9"/><rect fill="#ecd3a0" x="8.4" y="457.3" width="15.0" height="1.6"/><rect fill="#e9e2d2" x="8.4" y="458.6" width="15.0" height="1.8"/><path fill="#2aa37b" d="M27.86 448.6V418.1Q27.86 417 28.96 417H41.76Q42.86 417 42.86 418.1V448.6Z"/><rect fill="#2b76d2" x="27.86" y="448.3" width="15.0" height="7"/><rect fill="#efd5a2" x="27.86" y="455" width="15.0" height="1.6"/><rect fill="#e9e2d2" x="27.86" y="456.3" width="15.0" height="4.1"/><path fill="#2aa37b" d="M47.32 442V401.1Q47.32 400 48.42 400H61.22Q62.32 400 62.32 401.1V442Z"/><rect fill="#2b76d2" x="47.32" y="441.7" width="15.0" height="11.4"/><rect fill="#f3c57c" x="47.32" y="452.8" width="15.0" height="2.8"/><rect fill="#d2d2d2" x="47.32" y="455.3" width="15.0" height="5.1"/><path fill="#2aa37b" d="M66.77 434.7V385.5Q66.77 384.4 67.87 384.4H80.67Q81.77 384.4 81.77 385.5V434.7Z"/><rect fill="#2b76d2" x="66.77" y="434.4" width="15.0" height="14.9"/><rect fill="#f6ae3c" x="66.77" y="449" width="15.0" height="4.6"/><rect fill="#d2d2d2" x="66.77" y="453.3" width="15.0" height="7.1"/><path fill="#2aa37b" d="M86.23 424.5V364.1Q86.23 363 87.33 363H100.13Q101.23 363 101.23 364.1V424.5Z"/><rect fill="#2b76d2" x="86.23" y="424.2" width="15.0" height="18.1"/><rect fill="#f6ae3c" x="86.23" y="442" width="15.0" height="5"/><rect fill="#d2d2d2" x="86.23" y="446.7" width="15.0" height="13.7"/><path fill="#2aa37b" d="M105.69 412.3V338.5Q105.69 337.4 106.79 337.4H119.59Q120.69 337.4 120.69 338.5V412.3Z"/><rect fill="#2b76d2" x="105.69" y="412" width="15.0" height="28.3"/><rect fill="#f6ae3c" x="105.69" y="440" width="15.0" height="5"/><rect fill="#d2d2d2" x="105.69" y="444.7" width="15.0" height="15.7"/><path fill="#2aa37b" d="M125.15 405.9V331.1Q125.15 330 126.25 330H139.05Q140.15 330 140.15 331.1V405.9Z"/><rect fill="#2b76d2" x="125.15" y="405.6" width="15.0" height="30.7"/><rect fill="#f6ae3c" x="125.15" y="436" width="15.0" height="6.8"/><rect fill="#d2d2d2" x="125.15" y="442.5" width="15.0" height="17.9"/><path fill="#2aa37b" d="M144.61 399.9V326.1Q144.61 325 145.71 325H158.51Q159.61 325 159.61 326.1V399.9Z"/><rect fill="#2b76d2" x="144.61" y="399.6" width="15.0" height="34.5"/><rect fill="#f6ae3c" x="144.61" y="433.8" width="15.0" height="6.2"/><rect fill="#d2d2d2" x="144.61" y="439.7" width="15.0" height="20.7"/><path fill="#2aa37b" d="M164.06 399.3V320.1Q164.06 319 165.16 319H177.96Q179.06 319 179.06 320.1V399.3Z"/><rect fill="#2b76d2" x="164.06" y="399" width="15.0" height="33.7"/><rect fill="#f6ae3c" x="164.06" y="432.4" width="15.0" height="7.9"/><rect fill="#d2d2d2" x="164.06" y="440" width="15.0" height="20.4"/><path fill="#2aa37b" d="M183.52 392.7V310.1Q183.52 309 184.62 309H197.42Q198.52 309 198.52 310.1V392.7Z"/><rect fill="#2b76d2" x="183.52" y="392.4" width="15.0" height="39.1"/><rect fill="#f6ae3c" x="183.52" y="431.2" width="15.0" height="8.1"/><rect fill="#d2d2d2" x="183.52" y="439" width="15.0" height="21.4"/><path fill="#2aa37b" d="M202.98 385.3V300.1Q202.98 299 204.08 299H216.88Q217.98 299 217.98 300.1V385.3Z"/><rect fill="#2b76d2" x="202.98" y="385" width="15.0" height="40.9"/><rect fill="#f6ae3c" x="202.98" y="425.6" width="15.0" height="10.3"/><rect fill="#d2d2d2" x="202.98" y="435.6" width="15.0" height="24.8"/><path fill="#2aa37b" d="M222.44 372.5V281.7Q222.44 280.6 223.54 280.6H236.34Q237.44 280.6 237.44 281.7V372.5Z"/><rect fill="#2b76d2" x="222.44" y="372.2" width="15.0" height="49.1"/><rect fill="#f6ae3c" x="222.44" y="421" width="15.0" height="12.3"/><rect fill="#d2d2d2" x="222.44" y="433" width="15.0" height="27.4"/><path fill="#2aa37b" d="M241.9 366.3V270.5Q241.9 269.4 243 269.4H255.8Q256.9 269.4 256.9 270.5V366.3Z"/><rect fill="#2b76d2" x="241.9" y="366" width="15.0" height="53.3"/><rect fill="#f6ae3c" x="241.9" y="419" width="15.0" height="12.3"/><rect fill="#d2d2d2" x="241.9" y="431" width="15.0" height="29.4"/><path fill="#2aa37b" d="M261.35 356.3V262.3Q261.35 261.2 262.45 261.2H275.25Q276.35 261.2 276.35 262.3V356.3Z"/><rect fill="#2b76d2" x="261.35" y="356" width="15.0" height="63.9"/><rect fill="#f6ae3c" x="261.35" y="419.6" width="15.0" height="11.7"/><rect fill="#d2d2d2" x="261.35" y="431" width="15.0" height="29.4"/><path fill="#2aa37b" d="M280.81 348.7V253.1Q280.81 252 281.91 252H294.71Q295.81 252 295.81 253.1V348.7Z"/><rect fill="#2b76d2" x="280.81" y="348.4" width="15.0" height="68.3"/><rect fill="#f6ae3c" x="280.81" y="416.4" width="15.0" height="12.9"/><rect fill="#d2d2d2" x="280.81" y="429" width="15.0" height="31.4"/><path fill="#2aa37b" d="M300.27 353.9V255.1Q300.27 254 301.37 254H314.17Q315.27 254 315.27 255.1V353.9Z"/><rect fill="#2b76d2" x="300.27" y="353.6" width="15.0" height="64.7"/><rect fill="#f6ae3c" x="300.27" y="418" width="15.0" height="12.3"/><rect fill="#d2d2d2" x="300.27" y="430" width="15.0" height="30.4"/><path fill="#2aa37b" d="M319.73 357.9V257.5Q319.73 256.4 320.83 256.4H333.63Q334.73 256.4 334.73 257.5V357.9Z"/><rect fill="#2b76d2" x="319.73" y="357.6" width="15.0" height="61.3"/><rect fill="#f6ae3c" x="319.73" y="418.6" width="15.0" height="11.7"/><rect fill="#d2d2d2" x="319.73" y="430" width="15.0" height="30.4"/><path fill="#2aa37b" d="M339.19 356.9V268.1Q339.19 267 340.29 267H353.09Q354.19 267 354.19 268.1V356.9Z"/><rect fill="#2b76d2" x="339.19" y="356.6" width="15.0" height="66.7"/><rect fill="#f6ae3c" x="339.19" y="423" width="15.0" height="8.3"/><rect fill="#d2d2d2" x="339.19" y="431" width="15.0" height="29.4"/><path fill="#2aa37b" d="M358.64 356.3V276.1Q358.64 275 359.74 275H372.54Q373.64 275 373.64 276.1V356.3Z"/><rect fill="#2b76d2" x="358.64" y="356" width="15.0" height="69.3"/><rect fill="#f6ae3c" x="358.64" y="425" width="15.0" height="8.3"/><rect fill="#d2d2d2" x="358.64" y="433" width="15.0" height="27.4"/><path fill="#2aa37b" d="M378.1 356.9V276.1Q378.1 275 379.2 275H392Q393.1 275 393.1 276.1V356.9Z"/><rect fill="#2b76d2" x="378.1" y="356.6" width="15.0" height="67.7"/><rect fill="#f6ae3c" x="378.1" y="424" width="15.0" height="8.3"/><rect fill="#d2d2d2" x="378.1" y="432" width="15.0" height="28.4"/><path fill="#2aa37b" d="M397.56 356.3V271.1Q397.56 270 398.66 270H411.46Q412.56 270 412.56 271.1V356.3Z"/><rect fill="#2b76d2" x="397.56" y="356" width="15.0" height="66.3"/><rect fill="#f6ae3c" x="397.56" y="422" width="15.0" height="8.3"/><rect fill="#d2d2d2" x="397.56" y="430" width="15.0" height="30.4"/><path fill="#2aa37b" d="M417.02 361.3V275.5Q417.02 274.4 418.12 274.4H430.92Q432.02 274.4 432.02 275.5V361.3Z"/><rect fill="#2b76d2" x="417.02" y="361" width="15.0" height="60.3"/><rect fill="#f6ae3c" x="417.02" y="421" width="15.0" height="7.9"/><rect fill="#d2d2d2" x="417.02" y="428.6" width="15.0" height="31.8"/><path fill="#2aa37b" d="M436.48 368.1V280.5Q436.48 279.4 437.58 279.4H450.38Q451.48 279.4 451.48 280.5V368.1Z"/><rect fill="#2b76d2" x="436.48" y="367.8" width="15.0" height="54.5"/><rect fill="#f6ae3c" x="436.48" y="422" width="15.0" height="7.3"/><rect fill="#d2d2d2" x="436.48" y="429" width="15.0" height="31.4"/><path fill="#2aa37b" d="M455.93 369.7V287.1Q455.93 286 457.03 286H469.83Q470.93 286 470.93 287.1V369.7Z"/><rect fill="#2b76d2" x="455.93" y="369.4" width="15.0" height="53.9"/><rect fill="#f6ae3c" x="455.93" y="423" width="15.0" height="7.3"/><rect fill="#d2d2d2" x="455.93" y="430" width="15.0" height="30.4"/><path fill="#2aa37b" d="M475.39 376.3V296.1Q475.39 295 476.49 295H489.29Q490.39 295 490.39 296.1V376.3Z"/><rect fill="#2b76d2" x="475.39" y="376" width="15.0" height="54.3"/><rect fill="#f6ae3c" x="475.39" y="430" width="15.0" height="6.9"/><rect fill="#d2d2d2" x="475.39" y="436.6" width="15.0" height="23.8"/><path fill="#2aa37b" d="M494.85 378.9V297.5Q494.85 296.4 495.95 296.4H508.75Q509.85 296.4 509.85 297.5V378.9Z"/><rect fill="#2b76d2" x="494.85" y="378.6" width="15.0" height="52.3"/><rect fill="#f6ae3c" x="494.85" y="430.6" width="15.0" height="6.7"/><rect fill="#d2d2d2" x="494.85" y="437" width="15.0" height="23.4"/><path fill="#2aa37b" d="M514.31 385.7V298.1Q514.31 297 515.41 297H528.21Q529.31 297 529.31 298.1V385.7Z"/><rect fill="#2b76d2" x="514.31" y="385.4" width="15.0" height="52.3"/><rect fill="#f6ae3c" x="514.31" y="437.4" width="15.0" height="6.5"/><rect fill="#d2d2d2" x="514.31" y="443.6" width="15.0" height="16.8"/><path fill="#2aa37b" d="M533.77 400.3V304.5Q533.77 303.4 534.87 303.4H547.67Q548.77 303.4 548.77 304.5V400.3Z"/><rect fill="#2b76d2" x="533.77" y="400" width="15.0" height="39.3"/><rect fill="#f6ae3c" x="533.77" y="439" width="15.0" height="7.3"/><rect fill="#d2d2d2" x="533.77" y="446" width="15.0" height="14.4"/><path fill="#2aa37b" d="M553.22 404.7V306.5Q553.22 305.4 554.32 305.4H567.12Q568.22 305.4 568.22 306.5V404.7Z"/><rect fill="#2b76d2" x="553.22" y="404.4" width="15.0" height="37.9"/><rect fill="#f6ae3c" x="553.22" y="442" width="15.0" height="6.3"/><rect fill="#d2d2d2" x="553.22" y="448" width="15.0" height="12.4"/><path fill="#2aa37b" d="M572.68 408.3V307.5Q572.68 306.4 573.78 306.4H586.58Q587.68 306.4 587.68 307.5V408.3Z"/><rect fill="#2b76d2" x="572.68" y="408" width="15.0" height="35.3"/><rect fill="#f6ae3c" x="572.68" y="443" width="15.0" height="6.3"/><rect fill="#d2d2d2" x="572.68" y="449" width="15.0" height="11.4"/><path fill="#2aa37b" d="M592.14 410.3V309.1Q592.14 308 593.24 308H606.04Q607.14 308 607.14 309.1V410.3Z"/><rect fill="#2b76d2" x="592.14" y="410" width="15.0" height="33.7"/><rect fill="#f6ae3c" x="592.14" y="443.4" width="15.0" height="6.3"/><rect fill="#d2d2d2" x="592.14" y="449.4" width="15.0" height="11"/><path fill="#2aa37b" d="M611.6 412.9V311.1Q611.6 310 612.7 310H625.5Q626.6 310 626.6 311.1V412.9Z"/><rect fill="#2b76d2" x="611.6" y="412.6" width="15.0" height="32.1"/><rect fill="#f6ae3c" x="611.6" y="444.4" width="15.0" height="5.9"/><rect fill="#d2d2d2" x="611.6" y="450" width="15.0" height="10.4"/><path fill="#2aa37b" d="M631.06 413.3V311.7Q631.06 310.6 632.16 310.6H644.96Q646.06 310.6 646.06 311.7V413.3Z"/><rect fill="#2b76d2" x="631.06" y="413" width="15.0" height="31.3"/><rect fill="#f6ae3c" x="631.06" y="444" width="15.0" height="6.3"/><rect fill="#d2d2d2" x="631.06" y="450" width="15.0" height="10.4"/><path fill="#2aa37b" d="M650.51 414.3V313.1Q650.51 312 651.61 312H664.41Q665.51 312 665.51 313.1V414.3Z"/><rect fill="#2b76d2" x="650.51" y="414" width="15.0" height="30.7"/><rect fill="#f6ae3c" x="650.51" y="444.4" width="15.0" height="6.9"/><rect fill="#d2d2d2" x="650.51" y="451" width="15.0" height="9.4"/><path fill="#2aa37b" d="M669.97 415.1V312.1Q669.97 311 671.07 311H683.87Q684.97 311 684.97 312.1V415.1Z"/><rect fill="#2b76d2" x="669.97" y="414.8" width="15.0" height="30.3"/><rect fill="#f6ae3c" x="669.97" y="444.8" width="15.0" height="7"/><rect fill="#d2d2d2" x="669.97" y="451.5" width="15.0" height="8.9"/><path fill="#2aa37b" d="M689.43 415.8V307.5Q689.43 306.4 690.53 306.4H703.33Q704.43 306.4 704.43 307.5V415.8Z"/><rect fill="#2b76d2" x="689.43" y="415.5" width="15.0" height="29.8"/><rect fill="#f6ae3c" x="689.43" y="445" width="15.0" height="7.5"/><rect fill="#d2d2d2" x="689.43" y="452.2" width="15.0" height="8.2"/><path fill="#2aa37b" d="M708.89 416.1V305.1Q708.89 304 709.99 304H722.79Q723.89 304 723.89 305.1V416.1Z"/><rect fill="#2b76d2" x="708.89" y="415.8" width="15.0" height="30"/><rect fill="#f6ae3c" x="708.89" y="445.5" width="15.0" height="7.3"/><rect fill="#d2d2d2" x="708.89" y="452.5" width="15.0" height="7.9"/><path fill="#2aa37b" d="M728.35 415V298.1Q728.35 297 729.45 297H742.25Q743.35 297 743.35 298.1V415Z"/><rect fill="#2b76d2" x="728.35" y="414.7" width="15.0" height="31.9"/><rect fill="#f6ae3c" x="728.35" y="446.3" width="15.0" height="7"/><rect fill="#d2d2d2" x="728.35" y="453" width="15.0" height="7.4"/><path fill="#2aa37b" d="M747.8 410.8V291.1Q747.8 290 748.9 290H761.7Q762.8 290 762.8 291.1V410.8Z"/><rect fill="#2b76d2" x="747.8" y="410.5" width="15.0" height="35.6"/><rect fill="#f6ae3c" x="747.8" y="445.8" width="15.0" height="7.5"/><rect fill="#d2d2d2" x="747.8" y="453" width="15.0" height="7.4"/><path fill="#2aa37b" d="M767.26 407V280.5Q767.26 279.4 768.36 279.4H781.16Q782.26 279.4 782.26 280.5V407Z"/><rect fill="#2b76d2" x="767.26" y="406.7" width="15.0" height="39.9"/><rect fill="#77789b" x="767.26" y="446.3" width="15.0" height="1.5"/><rect fill="#f6ae3c" x="767.26" y="447.5" width="15.0" height="7"/><rect fill="#d2d2d2" x="767.26" y="454.2" width="15.0" height="6.2"/><path fill="#2aa37b" d="M786.72 403.1V268.1Q786.72 267 787.82 267H800.62Q801.72 267 801.72 268.1V403.1Z"/><rect fill="#2b76d2" x="786.72" y="402.8" width="15.0" height="40.6"/><rect fill="#77789b" x="786.72" y="443.1" width="15.0" height="2.2"/><rect fill="#f6ae3c" x="786.72" y="445" width="15.0" height="7.2"/><rect fill="#d2d2d2" x="786.72" y="451.9" width="15.0" height="8.5"/><path fill="#2aa37b" d="M806.18 404V267.5Q806.18 266.4 807.28 266.4H820.08Q821.18 266.4 821.18 267.5V404Z"/><rect fill="#2b76d2" x="806.18" y="403.7" width="15.0" height="39.6"/><rect fill="#77789b" x="806.18" y="443" width="15.0" height="2.9"/><rect fill="#f6ae3c" x="806.18" y="445.6" width="15.0" height="7.5"/><rect fill="#d2d2d2" x="806.18" y="452.8" width="15.0" height="7.6"/><path fill="#2aa37b" d="M825.64 404.1V267.5Q825.64 266.4 826.74 266.4H839.54Q840.64 266.4 840.64 267.5V404.1Z"/><rect fill="#2b76d2" x="825.64" y="403.8" width="15.0" height="40"/><rect fill="#77789b" x="825.64" y="443.5" width="15.0" height="3.1"/><rect fill="#f6ae3c" x="825.64" y="446.3" width="15.0" height="7.1"/><rect fill="#d2d2d2" x="825.64" y="453.1" width="15.0" height="7.3"/><path fill="#2aa37b" d="M845.09 402.8V263.7Q845.09 262.6 846.19 262.6H858.99Q860.09 262.6 860.09 263.7V402.8Z"/><rect fill="#2b76d2" x="845.09" y="402.5" width="15.0" height="40.9"/><rect fill="#77789b" x="845.09" y="443.1" width="15.0" height="2.8"/><rect fill="#f6ae3c" x="845.09" y="445.6" width="15.0" height="7.8"/><rect fill="#d2d2d2" x="845.09" y="453.1" width="15.0" height="7.3"/><path fill="#2aa37b" d="M864.55 400.3V256.1Q864.55 255 865.65 255H878.45Q879.55 255 879.55 256.1V400.3Z"/><rect fill="#2b76d2" x="864.55" y="400" width="15.0" height="43.1"/><rect fill="#77789b" x="864.55" y="442.8" width="15.0" height="2.1"/><rect fill="#f6ae3c" x="864.55" y="444.6" width="15.0" height="6.7"/><rect fill="#d2d2d2" x="864.55" y="451" width="15.0" height="9.4"/><path fill="#2aa37b" d="M884.01 399.3V253.3Q884.01 252.2 885.11 252.2H897.91Q899.01 252.2 899.01 253.3V399.3Z"/><rect fill="#2b76d2" x="884.01" y="399" width="15.0" height="43.6"/><rect fill="#77789b" x="884.01" y="442.3" width="15.0" height="2"/><rect fill="#f6ae3c" x="884.01" y="444" width="15.0" height="7.3"/><rect fill="#d2d2d2" x="884.01" y="451" width="15.0" height="9.4"/><path fill="#2aa37b" d="M903.47 399.7V253.3Q903.47 252.2 904.57 252.2H917.37Q918.47 252.2 918.47 253.3V399.7Z"/><rect fill="#2b76d2" x="903.47" y="399.4" width="15.0" height="42.8"/><rect fill="#77789b" x="903.47" y="441.9" width="15.0" height="2.4"/><rect fill="#f6ae3c" x="903.47" y="444" width="15.0" height="7.6"/><rect fill="#d2d2d2" x="903.47" y="451.3" width="15.0" height="9.1"/><path fill="#2aa37b" d="M922.93 390.9V228.1Q922.93 227 924.03 227H936.83Q937.93 227 937.93 228.1V390.9Z"/><rect fill="#2b76d2" x="922.93" y="390.6" width="15.0" height="48.7"/><rect fill="#77789b" x="922.93" y="439" width="15.0" height="4.9"/><rect fill="#f6ae3c" x="922.93" y="443.6" width="15.0" height="7.4"/><rect fill="#b58f36" x="922.93" y="450.7" width="15.0" height="1.6"/><rect fill="#d2d2d2" x="922.93" y="452" width="15.0" height="8.4"/><path fill="#2aa37b" d="M942.38 380.3V213.7Q942.38 212.6 943.48 212.6H956.28Q957.38 212.6 957.38 213.7V380.3Z"/><rect fill="#2b76d2" x="942.38" y="380" width="15.0" height="53.5"/><rect fill="#77789b" x="942.38" y="433.2" width="15.0" height="7.7"/><rect fill="#f6ae3c" x="942.38" y="440.6" width="15.0" height="6.9"/><rect fill="#b58f36" x="942.38" y="447.2" width="15.0" height="1.3"/><rect fill="#d2d2d2" x="942.38" y="448.2" width="15.0" height="12.2"/><path fill="#2aa37b" d="M961.84 367.9V198.7Q961.84 197.6 962.94 197.6H975.74Q976.84 197.6 976.84 198.7V367.9Z"/><rect fill="#2b76d2" x="961.84" y="367.6" width="15.0" height="65.2"/><rect fill="#77789b" x="961.84" y="432.5" width="15.0" height="6.8"/><rect fill="#f6ae3c" x="961.84" y="439" width="15.0" height="8.7"/><rect fill="#b58f36" x="961.84" y="447.4" width="15.0" height="1.5"/><rect fill="#d2d2d2" x="961.84" y="448.6" width="15.0" height="11.8"/><path fill="#2aa37b" d="M981.3 362.3V185.5Q981.3 184.4 982.4 184.4H995.2Q996.3 184.4 996.3 185.5V362.3Z"/><rect fill="#2b76d2" x="981.3" y="362" width="15.0" height="68.5"/><rect fill="#77789b" x="981.3" y="430.2" width="15.0" height="6.9"/><rect fill="#f6ae3c" x="981.3" y="436.8" width="15.0" height="10.5"/><rect fill="#b58f36" x="981.3" y="447" width="15.0" height="1.8"/><rect fill="#fbfaf5" x="981.3" y="448.5" width="15.0" height="1.8"/><rect fill="#d2d2d2" x="981.3" y="450" width="15.0" height="10.4"/><path fill="#2aa37b" d="M1000.76 353.3V178.1Q1000.76 177 1001.86 177H1014.66Q1015.76 177 1015.76 178.1V353.3Z"/><rect fill="#2b76d2" x="1000.76" y="353" width="15.0" height="74"/><rect fill="#77789b" x="1000.76" y="426.7" width="15.0" height="6.8"/><rect fill="#f6ae3c" x="1000.76" y="433.2" width="15.0" height="10.1"/><rect fill="#b58f36" x="1000.76" y="443" width="15.0" height="1.9"/><rect fill="#fbfaf5" x="1000.76" y="444.6" width="15.0" height="6.2"/><rect fill="#d2d2d2" x="1000.76" y="450.5" width="15.0" height="9.9"/><path fill="#2aa37b" d="M1020.22 350.9V169.1Q1020.22 168 1021.32 168H1034.12Q1035.22 168 1035.22 169.1V350.9Z"/><rect fill="#2b76d2" x="1020.22" y="350.6" width="15.0" height="75.1"/><rect fill="#77789b" x="1020.22" y="425.4" width="15.0" height="6.1"/><rect fill="#f6ae3c" x="1020.22" y="431.2" width="15.0" height="10.1"/><rect fill="#b58f36" x="1020.22" y="441" width="15.0" height="3.5"/><rect fill="#fbfaf5" x="1020.22" y="444.2" width="15.0" height="7.1"/><rect fill="#d2d2d2" x="1020.22" y="451" width="15.0" height="9.4"/><path fill="#2aa37b" d="M1039.67 349.8V161.1Q1039.67 160 1040.77 160H1053.57Q1054.67 160 1054.67 161.1V349.8Z"/><rect fill="#2b76d2" x="1039.67" y="349.5" width="15.0" height="74.8"/><rect fill="#77789b" x="1039.67" y="424" width="15.0" height="6.5"/><rect fill="#f6ae3c" x="1039.67" y="430.2" width="15.0" height="10.7"/><rect fill="#b58f36" x="1039.67" y="440.6" width="15.0" height="3.3"/><rect fill="#fbfaf5" x="1039.67" y="443.6" width="15.0" height="8"/><rect fill="#d2d2d2" x="1039.67" y="451.3" width="15.0" height="9.1"/><path fill="#2aa37b" d="M1059.13 349.4V156.1Q1059.13 155 1060.23 155H1073.03Q1074.13 155 1074.13 156.1V349.4Z"/><rect fill="#2b76d2" x="1059.13" y="349.1" width="15.0" height="74.6"/><rect fill="#77789b" x="1059.13" y="423.4" width="15.0" height="6.9"/><rect fill="#f6ae3c" x="1059.13" y="430" width="15.0" height="10.6"/><rect fill="#b58f36" x="1059.13" y="440.3" width="15.0" height="3.2"/><rect fill="#fbfaf5" x="1059.13" y="443.2" width="15.0" height="8.6"/><rect fill="#d2d2d2" x="1059.13" y="451.5" width="15.0" height="8.9"/><path fill="#2aa37b" d="M1078.59 341.3V140.5Q1078.59 139.4 1079.69 139.4H1092.49Q1093.59 139.4 1093.59 140.5V341.3Z"/><rect fill="#2b76d2" x="1078.59" y="341" width="15.0" height="76.9"/><rect fill="#77789b" x="1078.59" y="417.6" width="15.0" height="10.7"/><rect fill="#f6ae3c" x="1078.59" y="428" width="15.0" height="11.8"/><rect fill="#b58f36" x="1078.59" y="439.5" width="15.0" height="3.4"/><rect fill="#fbfaf5" x="1078.59" y="442.6" width="15.0" height="9.2"/><rect fill="#d2d2d2" x="1078.59" y="451.5" width="15.0" height="8.9"/><path fill="#2aa37b" d="M1098.05 322.8V116.3Q1098.05 115.2 1099.15 115.2H1111.95Q1113.05 115.2 1113.05 116.3V322.8Z"/><rect fill="#2b76d2" x="1098.05" y="322.5" width="15.0" height="87.6"/><rect fill="#77789b" x="1098.05" y="409.8" width="15.0" height="16.2"/><rect fill="#f6ae3c" x="1098.05" y="425.7" width="15.0" height="13.1"/><rect fill="#b58f36" x="1098.05" y="438.5" width="15.0" height="3.8"/><rect fill="#fbfaf5" x="1098.05" y="442" width="15.0" height="9.8"/><rect fill="#d2d2d2" x="1098.05" y="451.5" width="15.0" height="8.9"/><path fill="#2aa37b" d="M1117.51 313.7V99.1Q1117.51 98 1118.61 98H1131.41Q1132.51 98 1132.51 99.1V313.7Z"/><rect fill="#2b76d2" x="1117.51" y="313.4" width="15.0" height="91.5"/><rect fill="#77789b" x="1117.51" y="404.6" width="15.0" height="17.5"/><rect fill="#f6ae3c" x="1117.51" y="421.8" width="15.0" height="15.5"/><rect fill="#b58f36" x="1117.51" y="437" width="15.0" height="4.3"/><rect fill="#fbfaf5" x="1117.51" y="441" width="15.0" height="10.8"/><rect fill="#d2d2d2" x="1117.51" y="451.5" width="15.0" height="8.9"/><path fill="#2aa37b" d="M1136.96 314.3V89.9Q1136.96 88.8 1138.06 88.8H1150.86Q1151.96 88.8 1151.96 89.9V314.3Z"/><rect fill="#2b76d2" x="1136.96" y="314" width="15.0" height="92.2"/><rect fill="#77789b" x="1136.96" y="405.9" width="15.0" height="13.3"/><rect fill="#f6ae3c" x="1136.96" y="418.9" width="15.0" height="17.4"/><rect fill="#b58f36" x="1136.96" y="436" width="15.0" height="4.8"/><rect fill="#fbfaf5" x="1136.96" y="440.5" width="15.0" height="11.3"/><rect fill="#d2d2d2" x="1136.96" y="451.5" width="15.0" height="8.9"/><path fill="#2aa37b" d="M1156.42 318V92.1Q1156.42 91 1157.52 91H1170.32Q1171.42 91 1171.42 92.1V318Z"/><rect fill="#2b76d2" x="1156.42" y="317.7" width="15.0" height="89.8"/><rect fill="#77789b" x="1156.42" y="407.2" width="15.0" height="12"/><rect fill="#f6ae3c" x="1156.42" y="418.9" width="15.0" height="17.4"/><rect fill="#b58f36" x="1156.42" y="436" width="15.0" height="4.8"/><rect fill="#fbfaf5" x="1156.42" y="440.5" width="15.0" height="11.3"/><rect fill="#d2d2d2" x="1156.42" y="451.5" width="15.0" height="8.9"/></g>
<rect x="0" y="460.5" width="1176" height="1" fill="#3a3d4b"/>
<g font-family="Liberation Sans, sans-serif" font-size="6.6" fill="#f4f4f4" stroke="#f4f4f4" stroke-width="0.2"><text transform="translate(1177.5,432.59) scale(1,1.16)">25B</text><text transform="translate(1177.5,402.03) scale(1,1.16)">50B</text><text transform="translate(1177.5,371.48) scale(1,1.16)">75B</text><text transform="translate(1177.5,340.92) scale(1,1.16)">100B</text><text transform="translate(1177.5,310.36) scale(1,1.16)">125B</text><text transform="translate(1177.5,279.8) scale(1,1.16)">150B</text><text transform="translate(1177.5,249.25) scale(1,1.16)">175B</text><text transform="translate(1177.5,218.69) scale(1,1.16)">200B</text><text transform="translate(1177.5,188.13) scale(1,1.16)">225B</text><text transform="translate(1177.5,157.57) scale(1,1.16)">250B</text><text transform="translate(1177.5,127.02) scale(1,1.16)">275B</text><text transform="translate(1177.5,96.46) scale(1,1.16)">300B</text><text transform="translate(1177.5,65.9) scale(1,1.16)">325B</text></g>
<g>
<rect x="534.3" y="234" width="32.3" height="32.3" rx="3.2" fill="#6d6f7c"/>
<path fill="#181a25" d="M550.54 239.9h4.27v4.1h-4.27zM554.76 239.9h4.27v4.1h-4.27zM546.32 243.95h4.27v4.1h-4.27zM554.76 243.95h4.27v4.1h-4.27zM542.1 248h4.27v4.1h-4.27zM554.76 248h4.27v4.1h-4.27zM542.1 252.05h4.27v4.1h-4.27zM546.32 252.05h4.27v4.1h-4.27zM550.54 252.05h4.27v4.1h-4.27zM554.76 252.05h4.27v4.1h-4.27zM542.1 256.1h4.27v4.1h-4.27zM554.76 256.1h4.27v4.1h-4.27z"/>
<text x="574.2" y="258.8" font-family="Liberation Sans, sans-serif" font-weight="bold" font-size="24.5" fill="#6d6f7c">Artemis</text>
</g>
</svg>
<div id="t">Stablecoin Supply by Token</div>
<div id="s">USD value of stablecoin issued and in circulation</div>
<div id="d">Dec '20</div>
<div id="lg"><span class="it"><i style="background:#2aa37b"></i>USDT</span><span class="it"><i style="background:#2b76d2"></i>USDC</span><span class="it"><i style="background:#6f7192"></i>USDe</span><span class="it"><i style="background:#f6b352"></i>USDS</span><span class="it"><i style="background:#f5ab35"></i>DAI</span><span class="it"><i style="background:#3b6fe0"></i>PYUSD</span><span class="it"><i style="background:#e5aa25"></i>USD1</span><span class="it"><i style="background:#f3f3f3"></i>USDf</span><span class="it"><i style="background:#ffffff"></i>BUIDL</span><span class="it"><i style="background:#fbfbcf"></i>USDtb</span><span class="it"><i style="background:#c6c6c6"></i>Other (79)</span></div>
<div id="wm">
<svg width="120" height="70" viewBox="1080 430 120 70">
<defs><linearGradient id="gg" x1="0" y1="0" x2="0" y2="1"><stop offset="0" stop-color="#e2e2e2"/><stop offset="0.5" stop-color="#a9a9a9"/><stop offset="1" stop-color="#5f5f5f"/></linearGradient></defs>
<path d="M1087.4 431.2L1107.7 498.2H1087.4Z" fill="url(#gg)"/>
<path d="M1087.4 431.2H1103.7V483.8H1123V498.2H1107.7Z" fill="#1b7fd0"/>
<text x="1128.7 1162.4" y="472.7" font-family="'Liberation Sans', 'Noto Sans CJK SC', sans-serif" font-weight="bold" font-size="32.5" fill="#1c80d2">链懂</text>
<text x="1129.8" y="486.6" font-family="Liberation Sans, sans-serif" font-weight="bold" font-size="6.6" fill="#1c80d2" textLength="65.2" lengthAdjust="spacing">NEATDOWN.COM</text>
</svg>
</div>
</body></html>
